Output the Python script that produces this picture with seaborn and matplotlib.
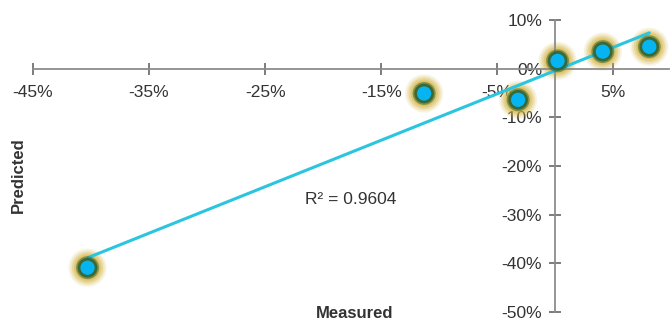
import numpy as np
import pandas as pd
import matplotlib
matplotlib.use("Agg")
import matplotlib.pyplot as plt
import seaborn as sns
from matplotlib.ticker import FuncFormatter

# Measured vs predicted change (%)
measured = [-40.3, -11.3, -3.2, 0.2, 4.1, 8.1]
predicted = [-40.9, -5.1, -6.4, 1.6, 3.5, 4.5]
r2_label = "R² = 0.9604"

x_ticks = [-45, -35, -25, -15, -5, 5]
y_ticks = [-50, -40, -30, -20, -10, 0, 10]

df = pd.DataFrame({"Measured": measured, "Predicted": predicted})

sns.set_theme(style="white")
plt.rcParams["font.family"] = ["Liberation Sans", "DejaVu Sans"]

fig = plt.figure(figsize=(6.71, 3.25), dpi=100)
ax = fig.add_axes([33 / 671, 13 / 325, 636 / 671, 292 / 325])
ax.set_xlim(-45, 9.8)
ax.set_ylim(-50, 10)

# Golden glow halo around each marker
for size, alpha in [(760, 0.14), (620, 0.2), (500, 0.28), (390, 0.38), (300, 0.5)]:
    sns.scatterplot(data=df, x="Measured", y="Predicted", ax=ax, s=size,
                    color="#D2B23E", alpha=alpha, edgecolor="none",
                    legend=False, zorder=2)
# Soft dark ring and bright blue core
sns.scatterplot(data=df, x="Measured", y="Predicted", ax=ax, s=270,
                color="#3E6A34", alpha=0.55, edgecolor="none",
                legend=False, zorder=4)
sns.scatterplot(data=df, x="Measured", y="Predicted", ax=ax, s=200,
                color="#2C6238", alpha=0.85, edgecolor="none",
                legend=False, zorder=4)
sns.scatterplot(data=df, x="Measured", y="Predicted", ax=ax, s=105,
                color="#06B4F2", edgecolor="none",
                legend=False, zorder=5)

# Linear trendline across the measured range
slope, intercept = np.polyfit(df["Measured"], df["Predicted"], 1)
xs = np.array([df["Measured"].min(), df["Measured"].max()])
trend = pd.DataFrame({"x": xs, "y": slope * xs + intercept})
sns.lineplot(data=trend, x="x", y="y", ax=ax, color="#2BC5DF",
             linewidth=2.2, zorder=3)

ax.text(-21.6, -26.9, r2_label, fontsize=12.5, color="#333333",
        va="center", ha="left")

# Axes crossing at the origin
for side in ["top", "right"]:
    ax.spines[side].set_visible(False)
ax.spines["left"].set_position(("data", 0))
ax.spines["bottom"].set_position(("data", 0))
for side in ["left", "bottom"]:
    ax.spines[side].set_color("#8C8C8C")
    ax.spines[side].set_linewidth(1.3)

ax.set_xticks(x_ticks)
ax.set_yticks(y_ticks)
pct = FuncFormatter(lambda v, _: f"{v:.0f}%")
ax.xaxis.set_major_formatter(pct)
ax.yaxis.set_major_formatter(pct)
ax.tick_params(axis="both", direction="inout", length=9, width=1.2,
               color="#666666", labelsize=12.5, labelcolor="#333333",
               bottom=True, left=True)
ax.tick_params(axis="x", pad=7)
ax.tick_params(axis="y", pad=5)
ax.set_xlabel("")
ax.set_ylabel("")
ax.grid(False)

fig.text(355 / 671, 1 - 313 / 325, "Measured", fontsize=12, fontweight="bold",
         color="#333333", ha="center", va="center")
fig.text(18 / 671, 1 - 175 / 325, "Predicted", fontsize=12, fontweight="bold",
         color="#333333", ha="center", va="center", rotation=90)

fig.savefig("out.png", dpi=100)
